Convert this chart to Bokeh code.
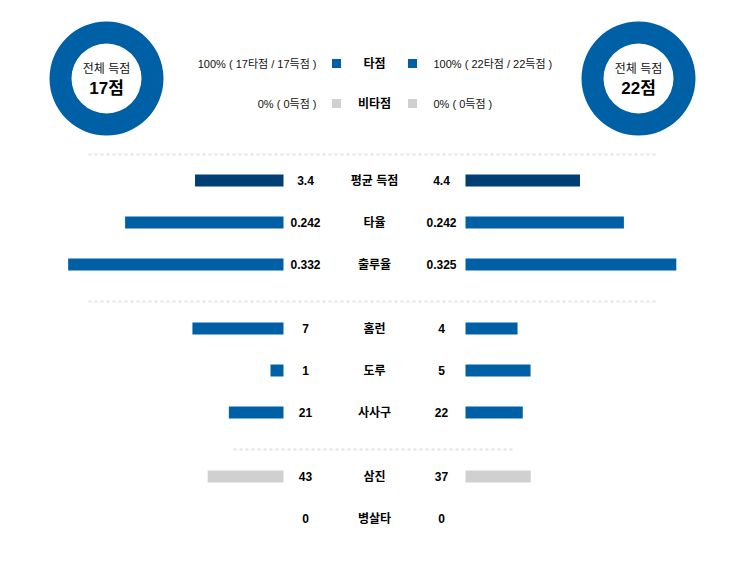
import math
from bokeh.plotting import figure
from bokeh.models import Range1d, ColumnDataSource
from bokeh.core.properties import value
from bokeh.embed import file_html
from bokeh.resources import INLINE

# ---------------- data ----------------
categories = ["평균 득점", "타율", "출루율", "홈런", "도루", "사사구", "삼진", "병살타"]
away_values = [3.4, 0.242, 0.332, 7, 1, 21, 43, 0]
home_values = [4.4, 0.242, 0.325, 4, 5, 22, 37, 0]
away_labels = ["3.4", "0.242", "0.332", "7", "1", "21", "43", "0"]
home_labels = ["4.4", "0.242", "0.325", "4", "5", "22", "37", "0"]
row_scale_max = [8.3, 0.33, 0.333, 16.6, 16.6, 83, 122.5, 10]
row_group = [0, 0, 0, 1, 1, 1, 2, 2]
row_kind = ["navy", "blue", "blue", "blue", "blue", "blue", "gray", "gray"]

away_total = 17
home_total = 22
legend_names = ["타점", "비타점"]
away_rbi = [17, 0]      # 타점, 비타점 runs
home_rbi = [22, 0]
away_pct = [100, 0]
home_pct = [100, 0]

# ---------------- style ----------------
COLORS = {"navy": "#003e74", "blue": "#0060a5", "gray": "#d0d0d0"}
DONUT_BLUE = "#0060a5"
FONT = "Liberation Sans, Noto Sans CJK KR"
TXT = "#111111"

W, H = 732, 555
p = figure(width=W, height=H, output_backend="svg", toolbar_location=None,
           x_range=Range1d(0, W), y_range=Range1d(H, 0),
           x_axis_location=None, y_axis_location=None, min_border=0)
p.outline_line_color = None
p.xgrid.visible = False
p.ygrid.visible = False
p.background_fill_color = "white"

CX = 374          # center column
GAP = 91          # half gap between bars
BAR_W = 216       # full bar length
LVAL_X = 305
RVAL_X = 441

# ---------------- donuts ----------------
def donut(cx, cy, parts, total_label):
    tot = sum(parts)
    start = math.pi / 2
    cols = [DONUT_BLUE, "#d0d0d0"]
    for v, c in zip(parts, cols):
        if v <= 0:
            continue
        if v >= tot:
            p.annulus(x=[cx], y=[cy], inner_radius=35, outer_radius=57,
                      fill_color=c, line_color=None)
            continue
        ang = 2 * math.pi * v / tot
        p.annular_wedge(x=[cx], y=[cy], inner_radius=35, outer_radius=57,
                        start_angle=start, end_angle=start + ang,
                        fill_color=c, line_color=None)
        start += ang
    p.text(x=[cx], y=[cy - 10], text=["전체 득점"], text_align="center",
           text_baseline="middle", text_font=value(FONT), text_font_size="12px",
           text_color=TXT)
    p.text(x=[cx], y=[cy + 10], text=[f"{total_label}점"], text_align="center",
           text_baseline="middle", text_font=value(FONT), text_font_size="17px",
           text_font_style="bold", text_color="#000000")

donut(106, 78, away_rbi, away_total)
donut(638, 78, home_rbi, home_total)

# ---------------- legend rows ----------------
legend_y = [63, 103]
legend_cols = [DONUT_BLUE, "#d0d0d0"]
for i, name in enumerate(legend_names):
    y = legend_y[i]
    if i == 0:
        lt = f"{away_pct[i]}% ( {away_rbi[i]}타점 / {away_total}득점 )"
        rt = f"{home_pct[i]}% ( {home_rbi[i]}타점 / {home_total}득점 )"
    else:
        lt = f"{away_pct[i]}% ( {away_rbi[i]}득점 )"
        rt = f"{home_pct[i]}% ( {home_rbi[i]}득점 )"
    p.text(x=[CX - 58], y=[y], text=[lt], text_align="right", text_baseline="middle",
           text_font=value(FONT), text_font_size="11px", text_color=TXT)
    p.text(x=[CX + 59], y=[y], text=[rt], text_align="left", text_baseline="middle",
           text_font=value(FONT), text_font_size="11px", text_color=TXT)
    p.text(x=[CX], y=[y], text=[name], text_align="center", text_baseline="middle",
           text_font=value(FONT), text_font_size="12px", text_font_style="bold",
           text_color="#000000")
    p.rect(x=[CX - 38, CX + 38], y=[y, y], width=9, height=9,
           fill_color=legend_cols[i], line_color=None)

# ---------------- separators ----------------
p.segment(x0=[CX - 286, CX - 286, CX - 141], x1=[CX + 282, CX + 282, CX + 139],
          y0=[154, 301, 449], y1=[154, 301, 449],
          line_color="#e3e3e3", line_width=2, line_dash="3 3")

# ---------------- rows ----------------
ys = [180 + 42 * i + 22 * g for i, g in enumerate(row_group)]
colors = [COLORS[k] for k in row_kind]
l_len = [v / m * BAR_W for v, m in zip(away_values, row_scale_max)]
r_len = [v / m * BAR_W for v, m in zip(home_values, row_scale_max)]

src = ColumnDataSource(dict(
    y=ys, cat=categories, al=away_labels, hl=home_labels, color=colors,
    l_left=[CX - GAP - L for L in l_len], l_right=[CX - GAP] * len(ys),
    r_left=[CX + GAP] * len(ys), r_right=[CX + GAP + L for L in r_len],
    lx=[LVAL_X] * len(ys), rx=[RVAL_X] * len(ys), cx=[CX] * len(ys),
))
p.hbar(y="y", left="l_left", right="l_right", height=12, fill_color="color",
       line_color=None, source=src)
p.hbar(y="y", left="r_left", right="r_right", height=12, fill_color="color",
       line_color=None, source=src)

for col, xcol in (("al", "lx"), ("hl", "rx"), ("cat", "cx")):
    p.text(x=xcol, y="y", text=col, source=src, text_align="center",
           text_baseline="middle", text_font=value(FONT), text_font_size="12px",
           text_font_style="bold", text_color="#000000")

open("out.html", "w").write(file_html(p, INLINE))
